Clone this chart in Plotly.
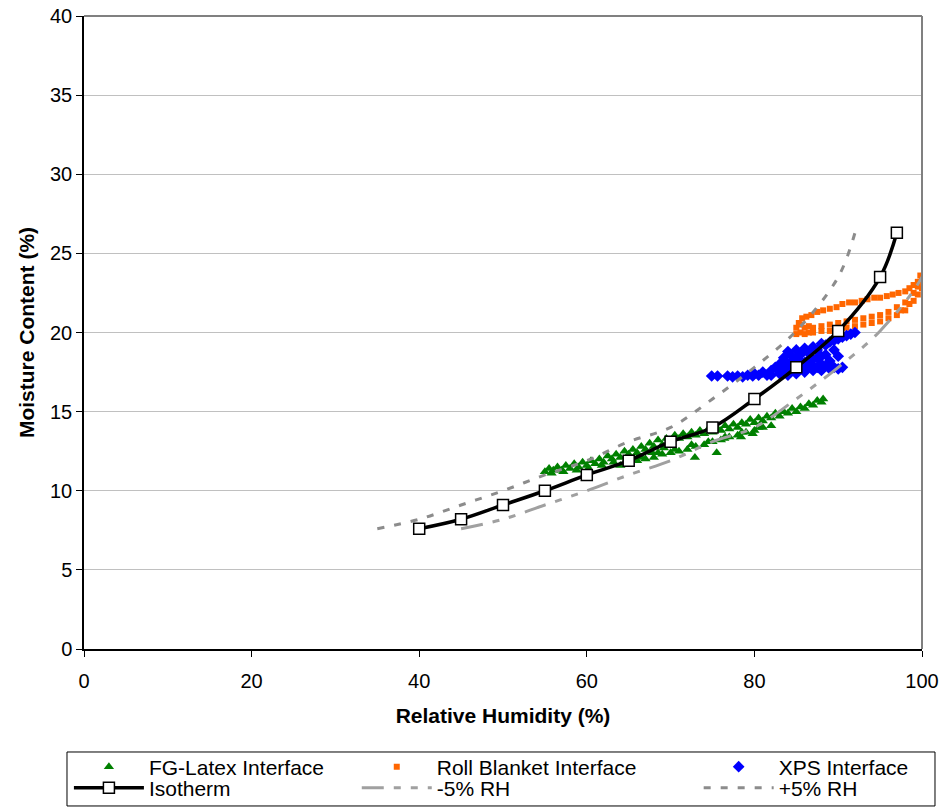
import plotly.graph_objects as go

# ---------------- data ----------------
iso_rh = [40, 45, 50, 55, 60, 65, 70, 75, 80, 85, 90, 95, 97]
iso_mc = [7.6, 8.2, 9.1, 10.0, 11.0, 11.9, 13.1, 14.0, 15.8, 17.8, 20.1, 23.5, 26.3]

minus5_rh = [45, 50, 55, 60, 65, 70, 75, 80, 85, 90, 95, 100, 102]
minus5_mc = [7.6, 8.2, 9.1, 10.0, 11.0, 11.9, 13.1, 14.0, 15.8, 17.8, 20.1, 23.5, 26.3]

plus5_rh = [35, 40, 45, 50, 55, 60, 65, 70, 75, 80, 85, 90, 92]
plus5_mc = [7.6, 8.2, 9.1, 10.0, 11.0, 11.9, 13.1, 14.0, 15.8, 17.8, 20.1, 23.5, 26.3]

fg_rh = [55.0, 55.5, 56.0, 56.5, 57.0, 57.5, 58.0, 58.5, 59.0, 59.5, 60.0, 60.5, 61.0, 61.5,
         62.0, 62.5, 63.0, 63.5, 64.0, 64.5, 65.0, 65.5, 66.0, 66.5, 67.0, 67.5, 68.0, 68.5,
         69.0, 69.5, 70.0, 70.5, 71.0, 71.5, 72.0, 72.5, 73.0, 73.5, 74.0, 74.5, 75.0, 75.5,
         76.0, 76.5, 77.0, 77.5, 78.0, 78.5, 79.0, 79.5, 80.0, 80.5, 81.0, 81.5, 82.0, 82.5,
         83.0, 83.5, 84.0, 84.5, 85.0, 85.5, 86.0, 86.5, 87.0, 87.5, 88.0, 88.2,
         64.0, 65.0, 66.0, 67.0, 68.0, 69.0, 70.0, 71.0, 72.0, 73.0, 74.0, 75.0, 76.0, 77.0,
         78.0, 79.0, 80.0, 81.0, 82.0, 66.5, 68.5, 70.5, 72.5, 74.5, 76.5, 78.5, 80.5,
         72.9, 75.5, 76.4, 78.4, 79.8,
         55.8, 57.2, 58.8, 60.2, 61.8, 63.2, 64.8, 66.2, 67.8, 69.2]
fg_mc = [11.2, 11.4, 11.3, 11.5, 11.3, 11.6, 11.4, 11.7, 11.5, 11.8, 11.6, 11.9, 11.7, 12.0,
         11.8, 12.2, 12.0, 12.3, 12.1, 12.5, 12.3, 12.6, 12.4, 12.8, 12.6, 13.0, 12.8, 13.2,
         12.9, 13.3, 13.1, 13.5, 13.3, 13.6, 13.4, 13.7, 13.5, 13.8, 13.6, 13.9, 13.7, 14.0,
         13.8, 14.1, 13.9, 14.2, 14.0, 14.3, 14.2, 14.5, 14.3, 14.6, 14.4, 14.7, 14.6, 14.9,
         14.7, 15.0, 14.9, 15.2, 15.0, 15.3, 15.2, 15.5, 15.4, 15.7, 15.6, 15.8,
         11.6, 11.8, 11.9, 12.0, 12.1, 12.3, 12.4, 12.5, 12.6, 12.8, 12.9, 13.1, 13.2, 13.4,
         13.5, 13.7, 13.8, 14.0, 14.1, 12.1, 12.4, 12.6, 12.9, 13.1, 13.4, 13.7, 14.0,
         12.1, 12.4, 13.3, 13.4, 13.6,
         11.1, 11.2, 11.3, 11.4, 11.6, 11.8, 12.0, 12.2, 12.4, 12.7]

rb_rh = [85.0, 85.0, 85.5, 85.5, 86.0, 86.0, 86.5, 86.5, 87.0, 87.0, 88.0, 88.0, 89.0, 89.0,
         90.0, 90.0, 91.0, 91.0, 92.0, 92.0, 93.0, 93.0, 94.0, 94.0, 95.0, 95.0, 96.0, 96.0,
         97.0, 97.0, 97.5, 98.0, 98.0, 98.5, 99.0, 99.0, 99.5, 99.5, 100.0, 100.0,
         85.3, 85.7, 86.2, 86.8, 87.5, 88.2, 89.0, 89.8, 90.5, 91.3, 92.0, 92.8, 93.5, 94.3,
         95.0, 95.8, 96.5, 97.2, 98.0, 98.5, 99.0, 99.5, 100.0, 99.8]
rb_mc = [19.9, 20.3, 20.0, 20.5, 19.9, 20.3, 20.0, 20.4, 20.0, 20.3, 20.1, 20.4, 20.1, 20.5,
         20.2, 20.6, 20.3, 20.7, 20.4, 20.8, 20.5, 20.9, 20.6, 21.0, 20.7, 21.1, 20.9, 21.3,
         21.1, 21.6, 21.4, 21.4, 21.9, 21.8, 22.0, 22.5, 22.4, 22.9, 22.8, 23.3,
         20.6, 20.9, 21.0, 21.1, 21.3, 21.4, 21.5, 21.6, 21.8, 21.9, 21.9, 22.0, 22.1, 22.2,
         22.2, 22.3, 22.4, 22.5, 22.6, 22.8, 23.0, 23.2, 23.5, 23.6]

xps_rh = [74.9, 75.6, 76.8, 77.4, 78.0, 78.6, 79.2, 79.8,
          80.0, 80.5, 81.0, 81.5, 82.0, 82.0, 82.5, 83.0, 83.0, 83.5, 83.5, 84.0, 84.0, 84.0,
          84.5, 84.5, 85.0, 85.0, 85.0, 85.5, 85.5, 86.0, 86.0, 86.0, 86.5, 86.5, 87.0, 87.0,
          87.0, 87.5, 87.5, 88.0, 88.0, 88.0, 88.5, 88.5, 89.0, 89.0, 89.5, 89.5, 90.0, 90.0,
          90.5, 90.5, 91.0, 91.5, 92.0,
          83.5, 84.5, 85.5, 86.5, 87.5, 88.5, 85.0, 86.0, 87.0, 88.0, 89.0, 90.0, 84.0, 89.5]
xps_mc = [17.25, 17.25, 17.25, 17.2, 17.25, 17.2, 17.3, 17.25,
          17.4, 17.3, 17.5, 17.3, 17.6, 17.3, 17.8, 17.4, 18.0, 17.6, 18.4, 17.5, 18.0, 18.8,
          17.8, 18.5, 17.4, 18.2, 18.9, 17.7, 18.6, 17.5, 18.1, 19.0, 17.9, 18.7, 17.6, 18.3,
          19.1, 17.8, 18.9, 17.6, 18.5, 19.3, 17.9, 19.2, 17.7, 19.4, 17.8, 19.5, 17.7, 19.6,
          17.8, 19.7, 19.8, 19.9, 20.0,
          17.9, 18.2, 18.2, 18.3, 18.4, 18.6, 17.9, 17.8, 17.9, 18.0, 18.2, 18.5, 17.3, 18.9]

x_ticks = [0, 20, 40, 60, 80, 100]
y_ticks = [0, 5, 10, 15, 20, 25, 30, 35, 40]

FONT = "Liberation Sans, Arial, sans-serif"
LFONT = 21

# legend placement (one single-item legend per slot)
col_x = [-0.018, 0.3255, 0.7335]
row_y = [-0.1864, -0.2196]

fig = go.Figure()

fig.add_trace(go.Scatter(x=fg_rh, y=fg_mc, mode="markers", name="FG-Latex Interface",
                         legend="legend",
                         marker=dict(symbol="triangle-up", size=9, color="#008000",
                                     line=dict(width=0))))
fig.add_trace(go.Scatter(x=rb_rh, y=rb_mc, mode="markers", name="Roll Blanket Interface",
                         legend="legend2",
                         marker=dict(symbol="square", size=6, color="#FF6600",
                                     line=dict(width=0))))
fig.add_trace(go.Scatter(x=xps_rh, y=xps_mc, mode="markers", name="XPS Interface",
                         legend="legend3",
                         marker=dict(symbol="diamond", size=9, color="#0000FF",
                                     line=dict(width=0))))
fig.add_trace(go.Scatter(x=iso_rh, y=iso_mc, mode="lines+markers", name="Isotherm",
                         legend="legend4",
                         line=dict(color="black", width=3.5, shape="spline"),
                         marker=dict(symbol="square", size=11, color="white",
                                     line=dict(color="black", width=1.5))))
fig.add_trace(go.Scatter(x=minus5_rh, y=minus5_mc, mode="lines", name="-5% RH",
                         legend="legend5",
                         line=dict(color="#A0A0A0", width=3, shape="spline",
                                   dash="22px,10px,7px,10px,7px,10px")))
fig.add_trace(go.Scatter(x=plus5_rh, y=plus5_mc, mode="lines", name="+5% RH",
                         legend="legend6",
                         line=dict(color="#8C8C8C", width=3, shape="spline",
                                   dash="7px,10px")))


def leg(ix, iy):
    return dict(x=col_x[ix], y=row_y[iy], xanchor="left", yanchor="middle",
                orientation="v", bgcolor="rgba(0,0,0,0)", borderwidth=0,
                font=dict(family=FONT, size=LFONT, color="black"), itemwidth=70)


fig.update_layout(
    width=944, height=807,
    margin=dict(l=84, r=22, t=16, b=158, autoexpand=False),
    paper_bgcolor="white", plot_bgcolor="white",
    font=dict(family=FONT, size=20, color="black"),
    showlegend=True,
    legend=leg(0, 0), legend2=leg(1, 0), legend3=leg(2, 0),
    legend4=leg(0, 1), legend5=leg(1, 1), legend6=leg(2, 1),
    xaxis=dict(range=[0, 100], tickvals=x_ticks, ticks="outside", ticklen=6,
               tickcolor="black", showline=True, linecolor="black", linewidth=1.5,
               showgrid=False, zeroline=False, automargin=False,
               ticklabelstandoff=7, ticklabeloverflow="allow",
               tickfont=dict(size=20, family=FONT),
               title=dict(text="<b>Relative Humidity (%)</b>", font=dict(size=21), standoff=18)),
    yaxis=dict(range=[0, 40], tickvals=y_ticks, ticks="outside", ticklen=6,
               tickcolor="black", showline=True, linecolor="black", linewidth=1.5,
               showgrid=True, gridcolor="#C0C0C0", gridwidth=1, zeroline=False,
               automargin=False, ticklabelstandoff=0, ticklabeloverflow="allow",
               tickfont=dict(size=20, family=FONT),
               title=dict(text="<b>Moisture Content (%)</b>", font=dict(size=21), standoff=10)),
    shapes=[
        dict(type="line", xref="paper", yref="paper", x0=0, x1=1, y0=1, y1=1,
             line=dict(color="#808080", width=2)),
        dict(type="line", xref="paper", yref="paper", x0=1, x1=1, y0=0, y1=1,
             line=dict(color="#808080", width=2)),
        dict(type="rect", xref="paper", yref="paper", x0=-0.0203, x1=1.0155,
             y0=-0.1627, y1=-0.248, line=dict(color="black", width=1)),
    ],
)

# remove the default 8px page margin so the figure fills the window exactly
fig.write_html("out.html",
               config={"displayModeBar": False},
               post_script="document.body.style.margin='0px';"
                           "document.body.style.overflow='hidden';")
